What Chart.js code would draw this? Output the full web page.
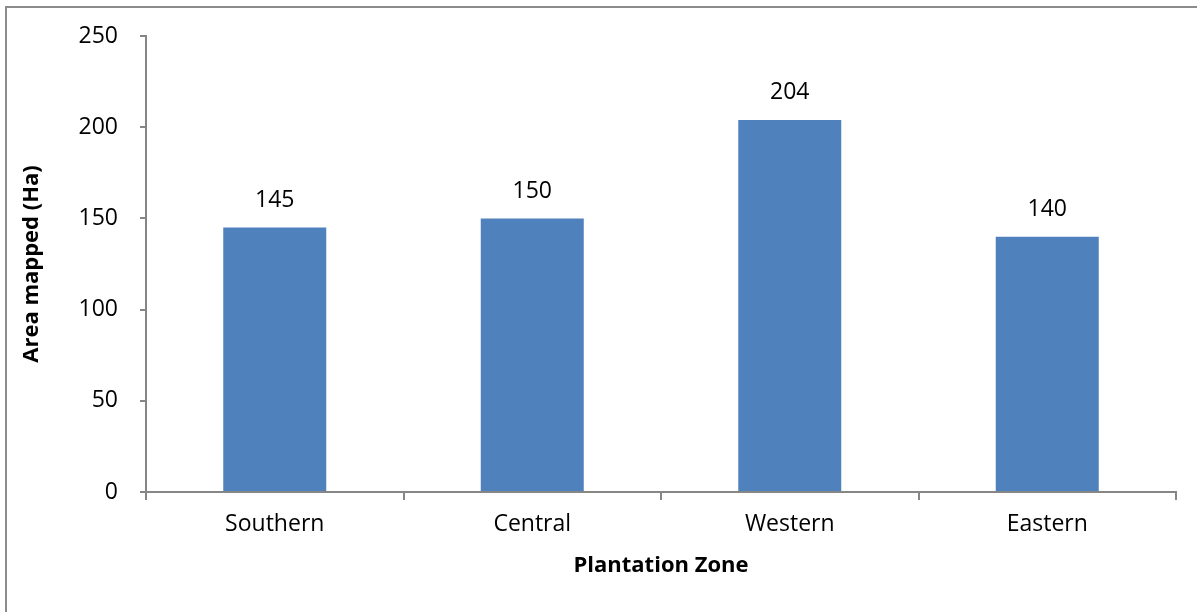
<!DOCTYPE html>
<html lang="en">
  <head>
    <meta charset="UTF-8" />
    <title>Area mapped by plantation zone</title>
    <script src="https://cdn.jsdelivr.net/npm/chart.js"></script>
    <style>
      body {
        margin: 0;
        background: #fff;
      }
      .frame {
        position: absolute;
        left: 5px;
        top: 6px;
        width: 1300px;
        height: 700px;
        border-left: 2px solid #8c8c8c;
        border-top: 2px solid #8c8c8c;
      }
      .chart-box {
        position: absolute;
        left: 0;
        top: 0;
        width: 1197px;
        height: 612px;
        overflow: hidden;
      }
    </style>
  </head>
  <body>
    <div class="chart-box">
      <div class="frame"></div>
      <canvas id="zoneChart" width="1197" height="612"></canvas>
    </div>

    <script>
      const zones = ["Southern", "Central", "Western", "Eastern"];
      const areaMapped = [145, 150, 204, 140];
      const yTicks = [0, 50, 100, 150, 200, 250];

      const axisColor = "#868686";
      const fontFamily = "'Open Sans', 'Noto Sans', sans-serif";

      // writes the value above each bar
      const valueLabels = {
        id: "valueLabels",
        afterDatasetsDraw(chart) {
          const ctx = chart.ctx;
          const meta = chart.getDatasetMeta(0);
          ctx.save();
          ctx.fillStyle = "#000";
          ctx.font = "23px " + fontFamily;
          ctx.textAlign = "center";
          ctx.textBaseline = "middle";
          meta.data.forEach((bar, i) => {
            ctx.fillText(String(areaMapped[i]), bar.x, bar.y - 27);
          });
          ctx.restore();
        },
      };

      new Chart(document.getElementById("zoneChart").getContext("2d"), {
        type: "bar",
        data: {
          labels: zones,
          datasets: [
            {
              label: "Area mapped (Ha)",
              data: areaMapped,
              backgroundColor: "#4f81bd",
              borderWidth: 0,
              barPercentage: 0.4,
              categoryPercentage: 1,
            },
          ],
        },
        options: {
          responsive: false,
          animation: false,
          layout: {
            padding: { left: 10, right: 21, top: 36, bottom: 20 },
          },
          plugins: {
            legend: { display: false },
            tooltip: { enabled: false },
          },
          scales: {
            x: {
              grid: {
                offset: true,
                drawOnChartArea: false,
                drawTicks: true,
                tickLength: 8,
                color: axisColor,
                lineWidth: 2,
              },
              border: { color: axisColor, width: 2 },
              ticks: {
                color: "#000",
                padding: 11,
                font: { family: fontFamily, size: 23 },
              },
              title: {
                display: true,
                text: "Plantation Zone",
                color: "#000",
                font: { family: fontFamily, size: 22, weight: "bold" },
                padding: { top: 0, bottom: 13 },
              },
              afterFit(scale) {
                scale.height = 100;
              },
            },
            y: {
              min: 0,
              max: 250,
              afterBuildTicks(scale) {
                scale.ticks = yTicks.map((v) => ({ value: v }));
              },
              grid: {
                drawOnChartArea: false,
                drawTicks: true,
                tickLength: 6,
                color: axisColor,
                lineWidth: 2,
              },
              border: { color: axisColor, width: 2 },
              ticks: {
                color: "#000",
                padding: 22,
                font: { family: fontFamily, size: 23 },
              },
              title: {
                display: true,
                text: "Area mapped (Ha)",
                color: "#000",
                font: { family: fontFamily, size: 22, weight: "bold" },
                padding: { top: 9, bottom: 0 },
              },
              afterFit(scale) {
                scale.width = 136;
              },
            },
          },
        },
        plugins: [valueLabels],
      });
    </script>
  </body>
</html>
